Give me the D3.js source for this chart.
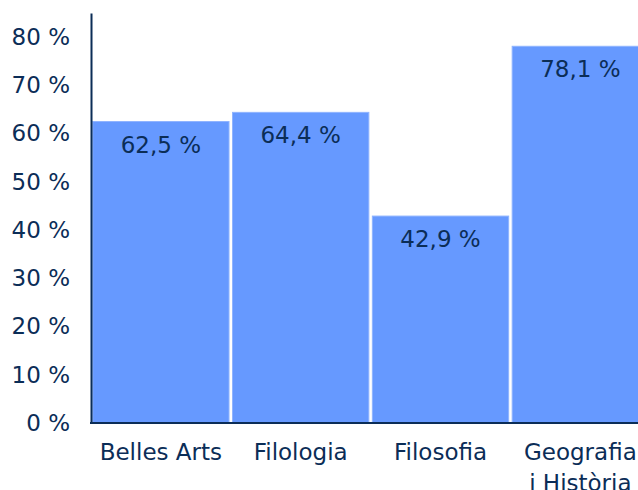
<!DOCTYPE html>
<html>
<head>
<meta charset="utf-8">
<script src="https://cdn.jsdelivr.net/npm/d3@7"></script>
<style>
  body { margin: 0; background: #fff; }
  svg { display: block; font-family: "DejaVu Sans", Verdana, sans-serif; }
</style>
</head>
<body>
<div class="grafico"></div>
<script>
/*Datos*/
const categories = ['Belles Arts', 'Filologia', 'Filosofia', 'Geografia i Història'];
const values = [62.5, 64.4, 42.9, 78.1];
const valueLabels = ['62,5 %', '64,4 %', '42,9 %', '78,1 %'];
const yTicks = [0, 10, 20, 30, 40, 50, 60, 70, 80];

const w = 638;
const h = 490;
const navy = '#0b2d57';
const fontSize = 23;

const svg = d3.select('.grafico')
  .append('svg')
  .attr('width', w)
  .attr('height', h);

/*Escalas*/
const xScale = d3.scaleBand()
  .domain(categories)
  .range([92, 92 + 4 * 139.3])
  .paddingInner(0.025)
  .paddingOuter(0.005);

const yScale = d3.scaleLinear()
  .domain([0, 85])
  .range([423, 13]);

/*Barras*/
svg.selectAll('rect.bar')
  .data(values)
  .enter()
  .append('rect')
  .attr('class', 'bar')
  .attr('x', (d, i) => xScale(categories[i]))
  .attr('y', d => yScale(d))
  .attr('width', xScale.bandwidth())
  .attr('height', d => yScale(0) - yScale(d))
  .attr('fill', '#6699ff')
  .attr('stroke', '#8fb4ff')
  .attr('stroke-width', 1);

/*Etiquetas de valor*/
svg.selectAll('text.val')
  .data(values)
  .enter()
  .append('text')
  .attr('class', 'val')
  .attr('x', (d, i) => xScale(categories[i]) + xScale.bandwidth() / 2)
  .attr('y', d => yScale(d) + 31)
  .attr('text-anchor', 'middle')
  .attr('font-size', fontSize)
  .attr('fill', navy)
  .text((d, i) => valueLabels[i]);

/*Eje Y*/
const yAxis = d3.axisLeft(yScale)
  .tickValues(yTicks)
  .tickSize(0)
  .tickPadding(21)
  .tickFormat(d => d + ' %');

svg.append('g')
  .attr('transform', 'translate(91,0)')
  .call(yAxis)
  .call(g => g.select('.domain').attr('stroke', navy).attr('stroke-width', 2))
  .call(g => g.selectAll('text').attr('font-size', fontSize).attr('fill', navy)
    .attr('font-family', '"DejaVu Sans", Verdana, sans-serif'));

/*Eje X*/
const xAxis = d3.axisBottom(xScale).tickSize(0).tickPadding(21);

svg.append('g')
  .attr('transform', 'translate(0,423)')
  .call(xAxis)
  .call(g => g.select('.domain').remove())
  .call(g => g.selectAll('text').attr('font-size', fontSize).attr('fill', navy)
    .attr('font-family', '"DejaVu Sans", Verdana, sans-serif')
    .each(function(d) {
      const t = d3.select(this);
      if (d === 'Geografia i Història') {
        t.text(null);
        t.append('tspan').attr('x', 0).text('Geografia');
        t.append('tspan').attr('x', 0).attr('dy', '1.35em').text('i Història');
      }
    }));

svg.append('line')
  .attr('x1', 90)
  .attr('x2', w)
  .attr('y1', 423)
  .attr('y2', 423)
  .attr('stroke', navy)
  .attr('stroke-width', 2);
</script>
</body>
</html>
